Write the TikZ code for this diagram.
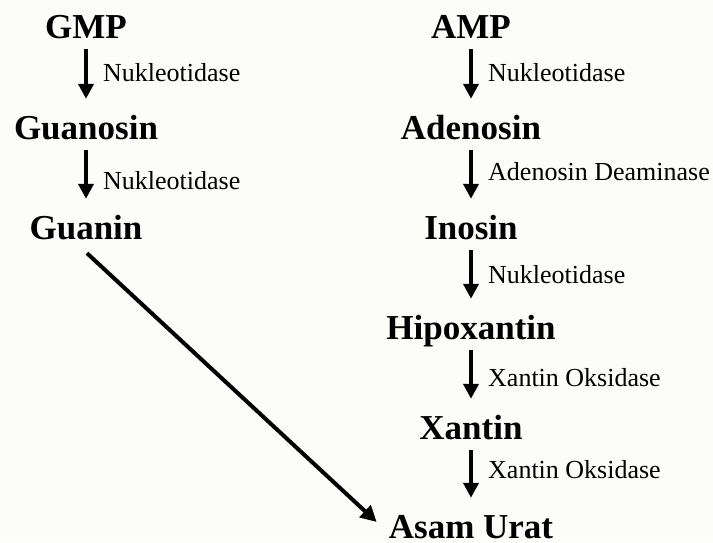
\documentclass[tikz,border=0pt]{standalone}
\usepackage{fontspec}
\setmainfont{Liberation Serif}
\usepackage{tikz}
\usetikzlibrary{positioning}
\usetikzlibrary{arrows.meta}
\definecolor{paper}{RGB}{252,252,248}

\begin{document}
\begin{tikzpicture}[x=1pt,y=-1pt,
  main node/.style={font=\fontsize{35}{35}\selectfont\bfseries,inner sep=0pt,text height=24pt,text depth=0pt},
  enzyme node/.style={font=\fontsize{26}{26}\selectfont,inner sep=0pt,text height=17pt,text depth=0pt,anchor=west},
  step arrow/.style={-{Triangle[length=15pt,width=15pt]},line width=4pt,shorten <=11pt,shorten >=16pt}]
\fill[paper] (0,0) rectangle (713,542);
\useasboundingbox (0,0) rectangle (713,542);
\node[main node] at (86,26) (GMP) {GMP};
\node[main node] at (86,127) (Guanosin) {Guanosin};
\node[main node] at (86,227) (Guanin) {Guanin};
\node[main node] at (471,26) (AMP) {AMP};
\node[main node] at (471,127) (Adenosin) {Adenosin};
\node[main node] at (471,227) (Inosin) {Inosin};
\node[main node] at (471,327) (Hipoxantin) {Hipoxantin};
\node[main node] at (471,427) (Xantin) {Xantin};
\node[main node] at (471,526) (AsamUrat) {Asam Urat};
\node[enzyme node] at (103,73) (Nuk1) {Nukleotidase};
\node[enzyme node] at (103,181) (Nuk2) {Nukleotidase};
\node[enzyme node] at (488,73) (Nuk3) {Nukleotidase};
\node[enzyme node] at (488,172) (AdeDea) {Adenosin Deaminase};
\node[enzyme node] at (488,275) (Nuk4) {Nukleotidase};
\node[enzyme node] at (488,378) (XanOks1) {Xantin Oksidase};
\node[enzyme node] at (488,470) (XanOks2) {Xantin Oksidase};
\draw[step arrow] (GMP.south) -- (Guanosin.north);
\draw[step arrow] (Guanosin.south) -- (Guanin.north);
\draw[step arrow] (AMP.south) -- (Adenosin.north);
\draw[step arrow] (Adenosin.south) -- (Inosin.north);
\draw[step arrow] (Inosin.south) -- (Hipoxantin.north);
\draw[step arrow] (Hipoxantin.south) -- (Xantin.north);
\draw[step arrow] (Xantin.south) -- (AsamUrat.north);
\draw[step arrow,-{Triangle[length=16pt,width=16pt]},shorten <=0pt,shorten >=0pt] ([xshift=1pt,yshift=-14pt]Guanin.south) -- ([xshift=-12pt,yshift=4pt]AsamUrat.west);
\end{tikzpicture}
\end{document}
